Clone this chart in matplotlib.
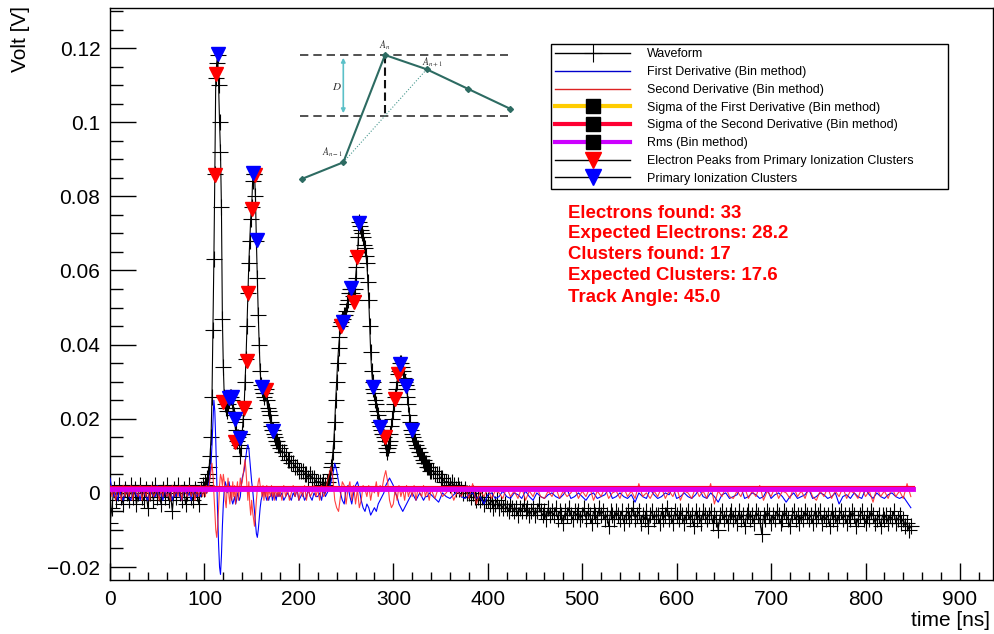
import numpy as np
import matplotlib
matplotlib.use('Agg')
import matplotlib.pyplot as plt
from matplotlib.lines import Line2D
from matplotlib.ticker import MultipleLocator, FuncFormatter

plt.rcParams['font.family'] = ['Liberation Sans', 'DejaVu Sans']
plt.rcParams['mathtext.fontset'] = 'stix'

# ---- sampling grids (ns) ----
t_a = np.arange(0, 100, 2)
t_b = np.arange(100, 180, 1)
t_wave = np.concatenate([t_a, t_b, np.arange(180, 230, 2), np.arange(230, 340, 1),
                         np.arange(340, 850, 2)])
t_deriv = np.concatenate([t_a, t_b, np.arange(180, 340, 2), np.arange(340, 852, 4)])

# ---- waveform, mV ----
wave_a = [-8, -4, 1, -2, 0, 2, -1, -3, 1, 0, -2, 2, -1, 1, -3, 0, 2, -1, -2, 1,
          -4, 0, 1, -2, 2, -1, 0, -3, 1, -1, 2, -2, 0, -5, 1, -1, 2, 0, -2, 1,
          -3, 0, 2, -1, -2, 1, 0, -3, 1, 2]
wave_b = [1, 3, 2, 4, 5, 7, 10, 15, 26, 44, 63, 86, 112, 116, 118, 110, 100, 92, 77, 47,
          34, 26, 24, 23, 22, 24, 25, 26, 26, 25, 23, 21, 19, 17, 15, 14, 15, 13, 10, 12,
          16, 20, 23, 30, 36, 45, 54, 62, 68, 74, 77, 84, 86, 86, 80, 68, 58, 48, 40, 33,
          29, 28, 27, 26, 27, 28, 25, 23, 22, 21, 19, 18, 17, 17, 16, 15, 14, 14, 13, 13]
wave_c = [12, 11, 11, 10, 9, 9, 8, 8, 7, 7, 6, 6, 6, 5, 5, 4, 5, 4, 4, 3,
          3, 3, 2, 3, 2]
wave_e = [3, 3, 4, 5, 7, 8, 11, 14, 19, 25,
          30, 35, 39, 42, 45, 46, 47, 47, 48, 48,
          49, 51, 52, 54, 55, 55, 54, 53, 52, 55,
          58, 61, 64, 69, 73, 72, 71, 70, 69, 67,
          66, 64, 62, 57, 52, 45, 38, 33, 30, 28,
          27, 25, 24, 22, 21, 19, 18, 17, 16, 16,
          15, 14, 12, 11, 12, 13, 14, 16, 18, 20,
          22, 24, 26, 28, 30, 32, 33, 35, 35, 34,
          33, 31, 30, 29, 28, 26, 24, 21, 19, 17,
          16, 15, 14, 14, 13, 12, 12, 11, 11, 10,
          10, 9, 9, 8, 8, 8, 7, 7, 7, 6]
wave_d = [6, 6, 5, 5, 5, 4, 4, 3, 3, 3, 2, 3, 2, 1, 2, 1, 1, 0, 1, 0,
          0, -1, 0, -1, -2, -1, -2, -1, -3, -2, -2, -3, -2, -4, -3, -2, -4, -3, -4, -3,
          -4, -5, -3, -4, -5, -4, -6, -4, -5, -3, -5, -4, -6, -5, -4, -6, -5, -3, -5, -6,
          -5, -7, -4, -6, -5, -6, -4, -7, -5, -6, -8, -5, -6, -4, -6, -7, -5, -6, -5, -7,
          -6, -4, -7, -5, -6, -8, -5, -6, -7, -4, -6, -5, -7, -6, -9, -5, -6, -7, -5, -6,
          -7, -5, -8, -6, -5, -7, -6, -4, -7, -6, -5, -8, -6, -7, -5, -9, -6, -5, -7, -6,
          -6, -8, -5, -7, -6, -4, -7, -6, -8, -5, -6, -7, -5, -6, -8, -6, -5, -7, -6, -9,
          -5, -7, -6, -8, -5, -6, -7, -6, -5, -8, -6, -7, -10, -6, -5, -7, -6, -8, -6, -5,
          -7, -6, -8, -5, -7, -6, -9, -6, -5, -7, -6, -8, -5, -6, -7, -11, -6, -7, -5, -6,
          -8, -6, -7, -5, -6, -8, -7, -5, -6, -7, -9, -6, -5, -7, -6, -8, -6, -7, -5, -6,
          -7, -6, -8, -5, -7, -6, -5, -8, -6, -7, -6, -9, -5, -7, -6, -8, -6, -5, -7, -6,
          -8, -6, -7, -5, -6, -9, -7, -6, -5, -7, -8, -6, -7, -5, -6, -8, -7, -6, -9, -6,
          -7, -6, -8, -6, -7, -5, -8, -7, -6, -8, -7, -9, -8, -10, -9]
v_wave = np.array(wave_a + wave_b + wave_c + wave_e + wave_d) / 1000.0

# ---- first derivative (bin method), mV ----
d1_a = [4, 1, -1, 0, -2, 1, -1, -2, 0, 1, -1, -2, 0, 1, -1, 0, -2, 1, 0, -1,
        -2, 1, 0, -1, -1, 2, -1, 0, -2, 1, -1, 0, 1, -2, 0, -1, 1, -1, -2, 0,
        1, -1, 0, -2, 1, 0, -1, 0, -1, 1]
d1_b = [0, 1, 0, 1, 2, 3, 5, 8, 13, 19, 25, 22, 14, 4, -6, -14, -20, -22, -17, -9,
        -3, 1, 3, 2, 0, 2, 3, 1, -1, -2, -3, -2, -1, -3, -2, 0, -1, -2, -1, 2,
        4, 5, 6, 8, 10, 12, 13, 12, 9, 6, 3, 1, -2, -5, -8, -11, -12, -10, -7, -4,
        -2, -1, 0, 1, 0, -1, -2, -1, -2, -1, -1, 0, -2, -1, 0, -1, -2, 0, -1, 0]
d1_c = [-1, 0, -2, -1, 0, -1, -2, 0, -1, 1, -2, -1, 0, -2, -1, 1, -1, -2, 0, -1,
        -1, 0, -2, 1, -1, 0, 1, 3, 5, 8, 6, 3, 0, -2, -3, 1, 2, -1, -3, 0,
        2, 3, 1, -2, -4, -5, -3, -4, -6, -5, -4, -5, -3, -2, -1, 0, 2, 3, 4, 3,
        2, 0, -1, -3, -4, -5, -4, -3, -2, -1, 0, -1, -2, -1, 0, -1, -2, -1, -1, 0]
d1_d = [-0.5, -1.5, -2.5, 0, -1, -1.5, -0.5, 0.5, -1, -1.5,
        -0.5, 0, -1.5, -1, -3, -0.5, 0, -1.5, -1, 0.5,
        -1, -1.5, 0, -0.5, -1.5, 0.5, -1, -2, 0, -1,
        -1.5, -0.5, 0, -1, -1.5, -0.5, 1, -1.5, -1, 0,
        -1, -2, -0.5, 0, -1.5, -1, -0.5, 1, -1.5, -1,
        0, -1, -1.5, -0.5, -2.5, 0, -1, -1.5, 1, -0.5,
        -1.5, -1, 0, -0.5, 1.5, -1.5, -1, 0, -1, -1.5,
        -0.5, 1, -1, -1.5, 0, -1, -2.5, -0.5, 0, -1.5,
        -1, -0.5, 1.5, -1.5, -1, 0, -0.5, -1.5, -1, 1,
        -1.5, -0.5, 0, -1, -2.5, -1, 0, -1.5, -1, -0.5,
        1, -1.5, -1, 0, -0.5, -1.5, -1, 0, -3, -1,
        -0.5, -1.5, 0, -1, -1.5, 1, -0.5, -1.5, 0, -1,
        -1.5, -0.5, 0, -1, -1.5, -1, -2.5, -4]
v_deriv1 = np.array(d1_a + d1_b + d1_c + d1_d) / 1000.0

# ---- second derivative (bin method), mV ----
d2_a = [2, -1, 1, -2, 1, 0, -2, 2, -1, 1, -1, 2, -2, 1, 0, -1, 2, -2, 1, -1,
        1, -2, 2, -1, 0, 1, -2, 1, -1, 2, -1, 0, -2, 2, -1, 1, -1, 2, -2, 1,
        0, -1, 2, -1, 1, -2, 1, -1, 2, -1]
d2_b = [1, -1, 2, 0, 1, 2, 4, 6, 8, 5, 0, -5, -10, -12, -9, -4, 2, 5, 4, 2,
        5, 3, -2, -4, 1, 4, -1, -3, 2, -2, 3, -1, 2, -3, 1, 3, -2, 1, 4, 2,
        3, 5, 7, 9, 6, 2, -2, 3, -3, -6, -2, -5, -7, -9, -6, -2, 1, 3, 4, 2,
        1, -1, 2, -2, 1, -1, 2, -2, 1, 0, -1, 2, -1, 1, -2, 1, 0, -1, 1, -1]
d2_c = [1, -2, 2, -1, 1, -2, 0, 2, -1, 1, -2, 1, -1, 2, -2, 1, -1, 0, 2, -1,
        1, -2, 2, -1, 0, 3, 5, 7, 4, -2, -4, -5, -1, 3, 2, -3, 1, 3, -2, 2,
        -3, 1, -4, -2, 2, 1, -1, 2, -2, 1, 0, 3, -1, 2, 1, 4, 6, 3, -2, -4,
        -3, 1, -2, 2, -1, 1, -2, 2, -1, 1, -1, 2, -2, 1, 0, -1, 2, -1, 1, -2]
d2_d = [1, -1.5, 1.5, -1, 0, 1.5, -2, 0.5, -1, 1.5,
        -1.5, 2.5, -3, 0.5, -1, 1.5, -1.5, 0.5, 0, -1.5,
        1.5, -1, 0.5, -1.5, 1.5, -2, 0.5, -1, 1.5, -1,
        -1.5, 0.5, -1, 1.5, -1.5, 0.5, -1, 0, 1.5, -1.5,
        0.5, -1, 1.5, -2, 0.5, -1, 1.5, -1.5, 0, 0.5,
        -1.5, 1.5, -1, 0.5, -1.5, 2.5, -1, 0, -1.5, 0.5,
        -1, 1.5, -1.5, 0.5, -1, 1.5, -2, 0.5, 0, -1.5,
        1.5, -1, 0.5, -1.5, 2.5, -3, 0.5, -1, 1.5, -1,
        -1.5, 0.5, -1, 1.5, -1.5, 0.5, -1, 2, -2, 0.5,
        -1, 1.5, -1.5, 0.5, 0, -1.5, 1.5, -1, 0.5, -1.5,
        1.5, -1, -2, 0.5, -1, 1.5, -1.5, 0.5, -1, 1.5,
        -1.5, 0.5, 0, -1.5, 1.5, -1, 0.5, -2.5, 1.5, -1,
        0.5, -1.5, 1.5, -1, 0.5, -1.5, 2.5, -1]
v_deriv2 = np.array(d2_a + d2_b + d2_c + d2_d) / 1000.0

# ---- thresholds ----
sigma_first = 0.0011
sigma_second = 0.0012
rms_level = 0.0010
t_range = [0, 850]

# ---- found peaks ----
electron_t = [111.2, 112.3, 120.0, 132.4, 141.9, 144.8, 146.5, 150.1, 153.6, 164.9,
              244.4, 258.5, 262.0, 291.3, 301.9, 305.4]
electron_v = [0.0857, 0.1131, 0.0246, 0.0136, 0.0228, 0.0357, 0.0538, 0.0767, 0.0857, 0.0278,
              0.0450, 0.0516, 0.0637, 0.0150, 0.0253, 0.0321]
cluster_t = [114.7, 126.5, 128.9, 132.4, 137.7, 151.8, 155.4, 160.7, 173.0,
             246.5, 255.0, 264.1, 278.9, 286.0, 307.2, 313.6, 319.6]
cluster_v = [0.1183, 0.0255, 0.0260, 0.0199, 0.0147, 0.0862, 0.0682, 0.0285, 0.0167,
             0.0462, 0.0552, 0.0727, 0.0285, 0.0179, 0.0348, 0.0288, 0.0170]

info_lines = ['Electrons found: 33', 'Expected Electrons: 28.2', 'Clusters found: 17',
              'Expected Clusters: 17.6', 'Track Angle: 45.0']

# sketch of the peak finding (figure pixels)
sketch_x = [301.7, 343.3, 385.0, 426.7, 468.3, 510.0]
sketch_y = [179.0, 162.3, 55.0, 69.3, 89.0, 108.7]

W, H = 994, 634
fig = plt.figure(figsize=(W / 100, H / 100), dpi=100)
ax = fig.add_axes([110 / W, 1 - 580 / H, 883 / W, 572 / H])

ax.plot(t_wave, v_wave, color='black', lw=0.8, marker='+', ms=11, mew=0.8, zorder=2)
ax.plot(t_deriv, v_deriv1, color='#0000ff', lw=0.8, zorder=3)
ax.plot(t_deriv, v_deriv2, color='#ff2020', lw=0.8, alpha=0.85, zorder=3)
ax.plot(t_range, [sigma_first] * 2, color='#ffcc00', lw=3, zorder=4)
ax.plot(t_range, [sigma_second] * 2, color='#ff0033', lw=3, zorder=4)
ax.plot(t_range, [rms_level] * 2, color='#dd00ee', lw=3.5, zorder=4)
ax.plot(electron_t, electron_v, ls='none', marker='v', ms=10, color='#ff0000', zorder=5)
ax.plot(cluster_t, cluster_v, ls='none', marker='v', ms=10, color='#0000ff', zorder=6)

ax.set_xlim(0, 935)
ax.set_ylim(-0.0235, 0.1308)
ax.xaxis.set_major_locator(MultipleLocator(100))
ax.xaxis.set_minor_locator(MultipleLocator(20))
ax.yaxis.set_major_locator(MultipleLocator(0.02))
ax.yaxis.set_minor_locator(MultipleLocator(0.005))
ax.yaxis.set_major_formatter(FuncFormatter(lambda v, p: ('%g' % round(v, 4)).replace('-', '\u2212')))
ax.tick_params(direction='in', labelsize=15, top=False, right=False, which='both')
ax.tick_params(axis='y', which='major', length=18.7, width=1, pad=7)
ax.tick_params(axis='y', which='minor', length=9.4, width=1)
ax.tick_params(axis='x', which='major', length=12.2, width=1, pad=7)
ax.tick_params(axis='x', which='minor', length=6.1, width=1)
for s in ax.spines.values():
    s.set_linewidth(1)

fig.text(20 / W, 1 - 6 / H, 'Volt [V]', rotation=90, ha='center', va='top', fontsize=15)
fig.text(990 / W, 1 - 621 / H, 'time [ns]', ha='right', va='center', fontsize=15)

for i, line in enumerate(info_lines):
    ax.text(568 / W, 1 - (213 + 21 * i) / H, line, transform=fig.transFigure, color='#ff0000',
            fontsize=13.4, fontweight='bold', va='center', ha='left', zorder=7)

handles = [
    Line2D([], [], color='black', lw=1, marker='+', ms=13, mew=0.8),
    Line2D([], [], color='#0000cc', lw=1),
    Line2D([], [], color='#dd2222', lw=1),
    Line2D([], [], color='#ffcc00', lw=3, marker='s', ms=10, mfc='black', mec='black'),
    Line2D([], [], color='#ff0033', lw=3, marker='s', ms=10, mfc='black', mec='black'),
    Line2D([], [], color='#cc00ff', lw=3, marker='s', ms=10, mfc='black', mec='black'),
    Line2D([], [], color='black', lw=1, marker='v', ms=11, mfc='#ff0000', mec='#ff0000'),
    Line2D([], [], color='black', lw=1, marker='v', ms=11, mfc='#0000ff', mec='#0000ff'),
]
labels = ['Waveform', 'First Derivative (Bin method)', 'Second Derivative (Bin method)',
          'Sigma of the First Derivative (Bin method)', 'Sigma of the Second Derivative (Bin method)',
          'Rms (Bin method)', 'Electron Peaks from Primary Ionization Clusters',
          'Primary Ionization Clusters']
leg = ax.legend(handles, labels, loc='upper left', bbox_to_anchor=(551 / W, 1 - 44 / H, 397 / W, 0.0),
                bbox_transform=fig.transFigure, mode='expand', fontsize=9, handlelength=6.0,
                handletextpad=1.3, labelspacing=0.46, borderpad=0.35, borderaxespad=0,
                fancybox=False, framealpha=1, edgecolor='black')
leg.get_frame().set_linewidth(1)
leg.set_zorder(8)

# overlay sketch
ov = fig.add_axes([0, 0, 1, 1])
ov.set_xlim(0, W)
ov.set_ylim(H, 0)
ov.axis('off')
teal = '#2d6b62'
ov.plot([300, 508], [55, 55], color='#333333', lw=1.2, ls=(0, (5, 3)))
ov.plot([300, 508], [116, 116], color='#333333', lw=1.2, ls=(0, (5, 3)))
ov.plot([385, 385], [55, 116], color='#111111', lw=1.5, ls=(0, (4, 2)))
ov.plot([sketch_x[1], sketch_x[3]], [sketch_y[1], sketch_y[3]], color='#4a9a90', lw=0.8, ls=':')
ov.plot(sketch_x, sketch_y, color=teal, lw=1.5, marker='D', ms=3)
ov.annotate('', xy=(343.3, 55), xytext=(343.3, 116),
            arrowprops=dict(arrowstyle='<|-|>', color='#5bc0c8', lw=1.2, mutation_scale=6))
ov.text(336.7, 87, '$D$', fontsize=8, ha='center', va='center', color='#333333')
ov.text(385, 45, '$A_n$', fontsize=7, ha='center', va='center', color='#333333')
ov.text(433, 62, '$A_{n+1}$', fontsize=7, ha='center', va='center', color='#333333')
ov.text(333, 152, '$A_{n-1}$', fontsize=7, ha='center', va='center', color='#333333')

fig.savefig('out.png', dpi=100)
